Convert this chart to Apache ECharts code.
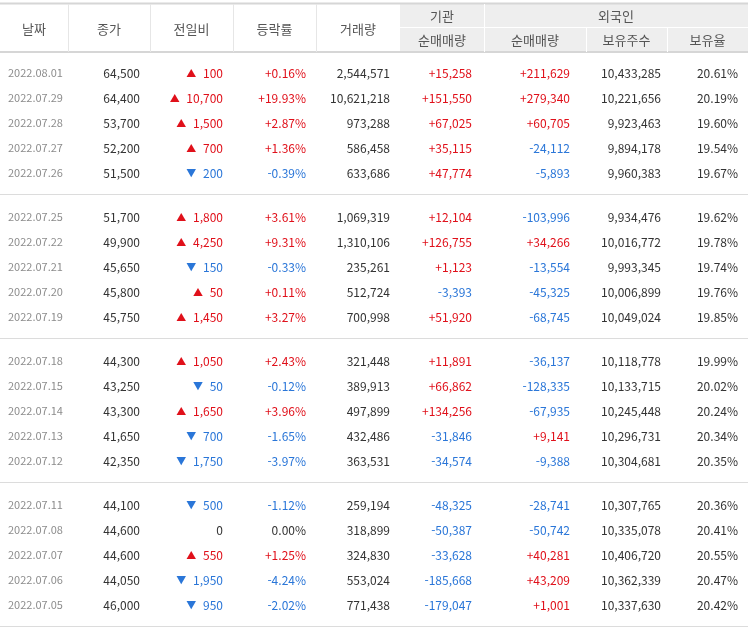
<!DOCTYPE html>
<html lang="ko">
<head>
<meta charset="UTF-8">
<title>일별 시세</title>
<script src="https://cdn.jsdelivr.net/npm/echarts@6/dist/echarts.min.js"></script>
<style>html,body{margin:0;padding:0;background:#fff}#main{width:748px;height:629px}</style>
</head>
<body>
<div id="main"></div>
<script>
// table data
var dates = ['2022.08.01','2022.07.29','2022.07.28','2022.07.27','2022.07.26',
  '2022.07.25','2022.07.22','2022.07.21','2022.07.20','2022.07.19',
  '2022.07.18','2022.07.15','2022.07.14','2022.07.13','2022.07.12',
  '2022.07.11','2022.07.08','2022.07.07','2022.07.06','2022.07.05'];
var closePrice = [64500,64400,53700,52200,51500,51700,49900,45650,45800,45750,
  44300,43250,43300,41650,42350,44100,44600,44600,44050,46000];
var change = [100,10700,1500,700,-200,1800,4250,-150,50,1450,
  1050,-50,1650,-700,-1750,-500,0,550,-1950,-950];
var rate = [0.16,19.93,2.87,1.36,-0.39,3.61,9.31,-0.33,0.11,3.27,
  2.43,-0.12,3.96,-1.65,-3.97,-1.12,0.00,1.25,-4.24,-2.02];
var volume = [2544571,10621218,973288,586458,633686,1069319,1310106,235261,512724,700998,
  321448,389913,497899,432486,363531,259194,318899,324830,553024,771438];
var instNet = [15258,151550,67025,35115,47774,12104,126755,1123,-3393,51920,
  11891,66862,134256,-31846,-34574,-48325,-50387,-33628,-185668,-179047];
var foreignNet = [211629,279340,60705,-24112,-5893,-103996,34266,-13554,-45325,-68745,
  -36137,-128335,-67935,9141,-9388,-28741,-50742,40281,43209,1001];
var foreignHold = [10433285,10221656,9923463,9894178,9960383,9934476,10016772,9993345,10006899,10049024,
  10118778,10133715,10245448,10296731,10304681,10307765,10335078,10406720,10362339,10337630];
var foreignRatio = [20.61,20.19,19.60,19.54,19.67,19.62,19.78,19.74,19.76,19.85,
  19.99,20.02,20.24,20.34,20.35,20.36,20.41,20.55,20.47,20.42];

var RED = '#e0101a', BLUE = '#2a76d8', INK = '#333', GRAY = '#8c8c8c';
var FONT = '"Noto Sans CJK KR", "Noto Sans", sans-serif';
var colX = [0, 68, 150, 233, 316, 400, 484, 586, 667, 748];
var rightX = [0, 140, 223, 306, 390, 472, 570, 661, 738];

function fmt(v) { return Math.abs(v).toLocaleString('en-US'); }
function signed(v) { return (v > 0 ? '+' : v < 0 ? '-' : '') + fmt(v); }
function col(v) { return v > 0 ? RED : v < 0 ? BLUE : INK; }

var els = [];
function txt(x, y, s, color, align, size) {
  els.push({ type: 'text', x: x, y: y, style: { text: s, fill: color, font: (size || 12) + 'px ' + FONT,
    textAlign: align, textVerticalAlign: 'middle' } });
}
function line(x1, y1, x2, y2, c, w) {
  els.push({ type: 'line', shape: { x1: x1, y1: y1, x2: x2, y2: y2 }, style: { stroke: c, lineWidth: w || 1 } });
}

// header
els.push({ type: 'rect', shape: { x: colX[5], y: 4, width: 748 - colX[5], height: 48 }, style: { fill: '#eeeeee' } });
line(0, 3.5, 748, 3.5, '#d6d6d6', 2);
line(0, 52, 748, 52, '#d6d6d6', 2);
line(colX[5], 27.5, 748, 27.5, '#fff');
for (var i = 1; i < 9; i++) {
  if (i < 5) line(colX[i] + 0.5, 4, colX[i] + 0.5, 52, '#e6e6e6');
  else if (i !== 5) line(colX[i] + 0.5, i === 6 ? 4 : 28, colX[i] + 0.5, 52, '#fff');
}
var mainHeads = ['날짜', '종가', '전일비', '등락률', '거래량'];
mainHeads.forEach(function (h, i) { txt((colX[i] + colX[i + 1]) / 2, 29, h, '#555', 'center', 13); });
txt((colX[5] + colX[6]) / 2, 16, '기관', '#555', 'center', 13);
txt((colX[6] + 748) / 2, 16, '외국인', '#555', 'center', 13);
['순매매량', '순매매량', '보유주수', '보유율'].forEach(function (h, i) {
  txt((colX[i + 5] + colX[i + 6]) / 2, 40, h, '#555', 'center', 13);
});

// rows
dates.forEach(function (d, r) {
  var y = 73 + r * 25 + Math.floor(r / 5) * 19;
  txt(8, y, d, GRAY, 'left', 11);
  txt(rightX[1], y, fmt(closePrice[r]), INK, 'right');
  var c = change[r];
  els.push({ type: 'text', x: rightX[2], y: y, style: {
    text: (c > 0 ? '{up|▲}  ' : c < 0 ? '{dn|▼}  ' : '') + '{n|' + fmt(c) + '}',
    textAlign: 'right', textVerticalAlign: 'middle',
    rich: { up: { fill: RED, font: '10px ' + FONT }, dn: { fill: BLUE, font: '10px ' + FONT },
      n: { fill: col(c), font: '12px ' + FONT } } } });
  var rt = rate[r];
  txt(rightX[3], y, (rt > 0 ? '+' : '') + rt.toFixed(2) + '%', col(rt), 'right');
  txt(rightX[4], y, fmt(volume[r]), INK, 'right');
  txt(rightX[5], y, signed(instNet[r]), col(instNet[r]), 'right');
  txt(rightX[6], y, signed(foreignNet[r]), col(foreignNet[r]), 'right');
  txt(rightX[7], y, fmt(foreignHold[r]), INK, 'right');
  txt(rightX[8], y, foreignRatio[r].toFixed(2) + '%', INK, 'right');
  if (r % 5 === 4) line(0, y + 21.5, 748, y + 21.5, '#dcdcdc');
});

var chart = echarts.init(document.getElementById('main'));
chart.setOption({ animation: false, graphic: { elements: els } });
</script>
</body>
</html>
